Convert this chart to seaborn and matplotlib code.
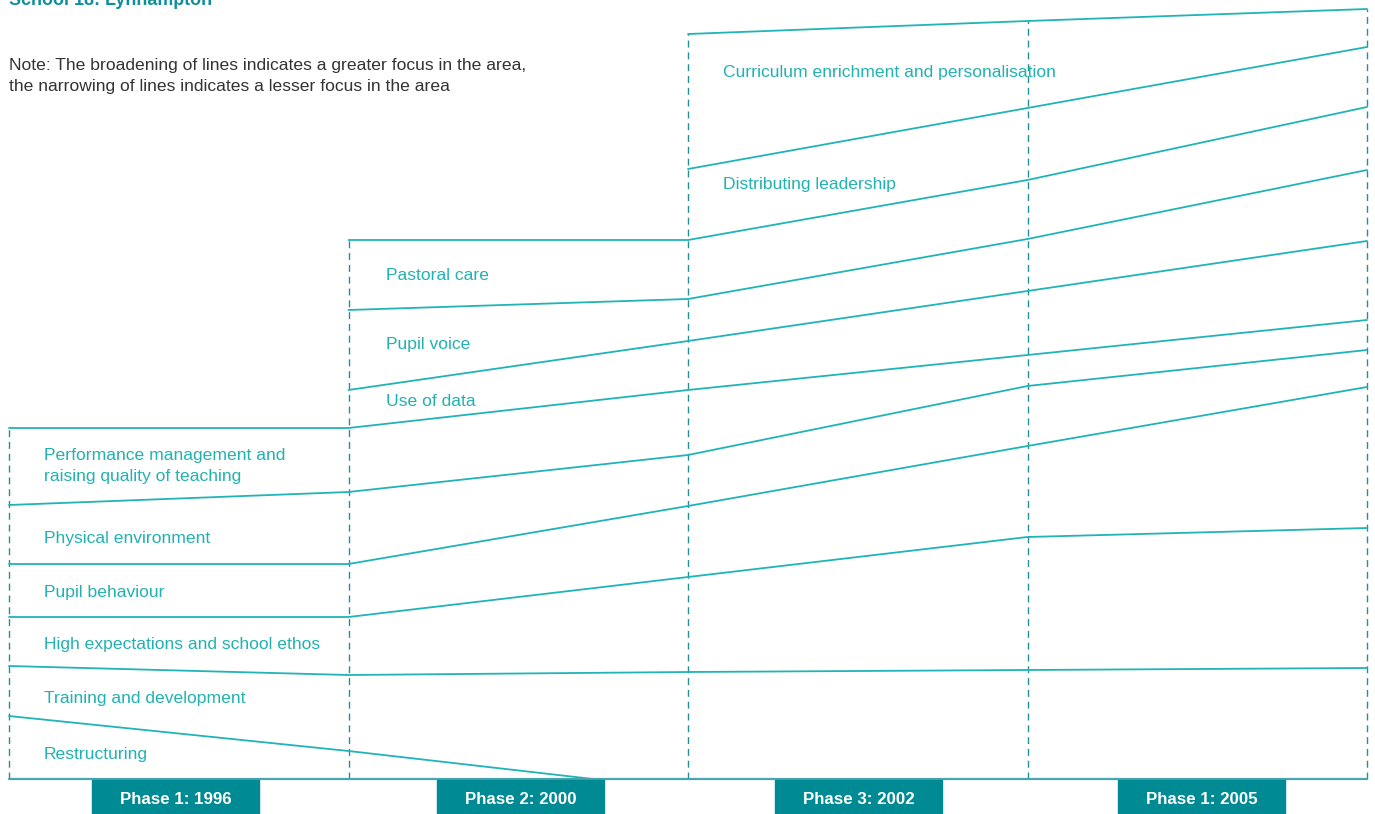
import numpy as np
import pandas as pd
import matplotlib
matplotlib.use("Agg")
import matplotlib.pyplot as plt
from matplotlib.patches import Rectangle
from matplotlib import font_manager as fm
import seaborn as sns

# ---------------- data ----------------
phase_labels = ["Phase 1: 1996", "Phase 2: 2000", "Phase 3: 2002", "Phase 1: 2005"]
boundary_x = [0, 1, 2, 3, 4]

categories = [
    "Restructuring",
    "Training and development",
    "High expectations and school ethos",
    "Pupil behaviour",
    "Physical environment",
    "Performance management and\nraising quality of teaching",
    "Use of data",
    "Pupil voice",
    "Pastoral care",
    "Distributing leadership",
    "Curriculum enrichment and personalisation",
]

nan = np.nan
restructuring = [63, 28, nan, nan, nan]
restructuring_end_x = 1.72          # focus fades to nothing mid phase 2
training = [50, 76, 107, 109, 111]
high_expectations = [49, 58, 95, 133, 140]
pupil_behaviour = [53, 53, 71, 91, 141]
physical_environment = [59, 72, 51, 60, 37]
performance_management = [77, 64, 65, 31, 30]
use_of_data = [nan, 38, 49, 64, 79]
pupil_voice = [nan, 80, 42, 52, 71]
pastoral_care = [nan, 70, 59, 59, 63]
distributing_leadership = [nan, nan, 71, 72, 60]
curriculum = [nan, nan, 135, 87, 38]

widths = np.array([restructuring, training, high_expectations, pupil_behaviour,
                   physical_environment, performance_management, use_of_data,
                   pupil_voice, pastoral_care, distributing_leadership, curriculum],
                  dtype=float)

# ---------------- style ----------------
LINE = "#20b4b6"
DASH = "#238f9b"
BOX = "#008a94"
TEXT = "#22b1b1"

names = {f.name for f in fm.fontManager.ttflist}
if "Liberation Sans Narrow" in names:
    FONT = ["Liberation Sans Narrow", "DejaVu Sans"]
    scale = 1.12
else:
    FONT = ["Liberation Sans", "DejaVu Sans"]
    scale = 1.0

sns.set_theme(style="white")
plt.rcParams["font.family"] = FONT

fig = plt.figure(figsize=(13.75, 8.14), dpi=100)
ax = fig.add_axes([0, 0, 1, 1])
ax.set_xlim(-9 / 339.5, (1375 - 9) / 339.5)
ax.set_ylim(-35, 779)
ax.axis("off")

# cumulative tops of each band
filled = np.nan_to_num(widths)
cum = np.cumsum(filled, axis=0)

rows = []
for k, cat in enumerate(categories):
    for j, x in enumerate(boundary_x):
        if not np.isnan(widths[k, j]):
            rows.append({"line": k, "x": x, "y": cum[k, j]})
    if k == 0:
        rows.append({"line": k, "x": restructuring_end_x, "y": 0.0})
df = pd.DataFrame(rows)

sns.lineplot(data=df, x="x", y="y", units="line", estimator=None, sort=False,
             color=LINE, lw=1.3, ax=ax, legend=False)

# vertical dashed phase boundaries up to stack top
stack_top = cum[-1]
for j, x in enumerate(boundary_x):
    ax.plot([x, x], [0, stack_top[j]], color=DASH, lw=1.0,
            ls=(0, (5, 3.5)), zorder=1)

# baseline
ax.plot([boundary_x[0], boundary_x[-1]], [0, 0], color="#4aa6ae", lw=1.6, zorder=2)

# labels
label_x = [0.103, 0.103, 0.103, 0.103, 0.103, 0.103, 1.109, 1.109, 1.109, 2.103, 2.103]
label_y = [24, 80, 134, 186, 241, 313, 378, 435, 503, 595, 706]
for cat, lx, ly in zip(categories, label_x, label_y):
    ax.text(lx, ly, cat, color=TEXT, fontsize=12.6 * scale, va="center", ha="left",
            linespacing=1.45)

# phase boxes
box_cx = [0.49, 1.507, 2.502, 3.513]
for cx, lab in zip(box_cx, phase_labels):
    ax.add_patch(Rectangle((cx - 0.246, -40), 0.492, 39, color=BOX,
                           clip_on=False, zorder=3))
    ax.text(cx, -20, lab, color="white", fontsize=12.2 * scale, fontweight="bold",
            ha="center", va="center", zorder=4)

# title (clipped at top, as in the source) and note
ax.text(0, 774, "School 18: Lynhampton", color="#0f8f9a", fontsize=12.9 * scale,
        fontweight="bold", ha="left", va="baseline")
ax.text(0, 703, "Note: The broadening of lines indicates a greater focus in the area,\n"
        "the narrowing of lines indicates a lesser focus in the area",
        color="#333333", fontsize=12.6 * scale, ha="left", va="center", linespacing=1.45)

fig.savefig("out.png", dpi=100)
